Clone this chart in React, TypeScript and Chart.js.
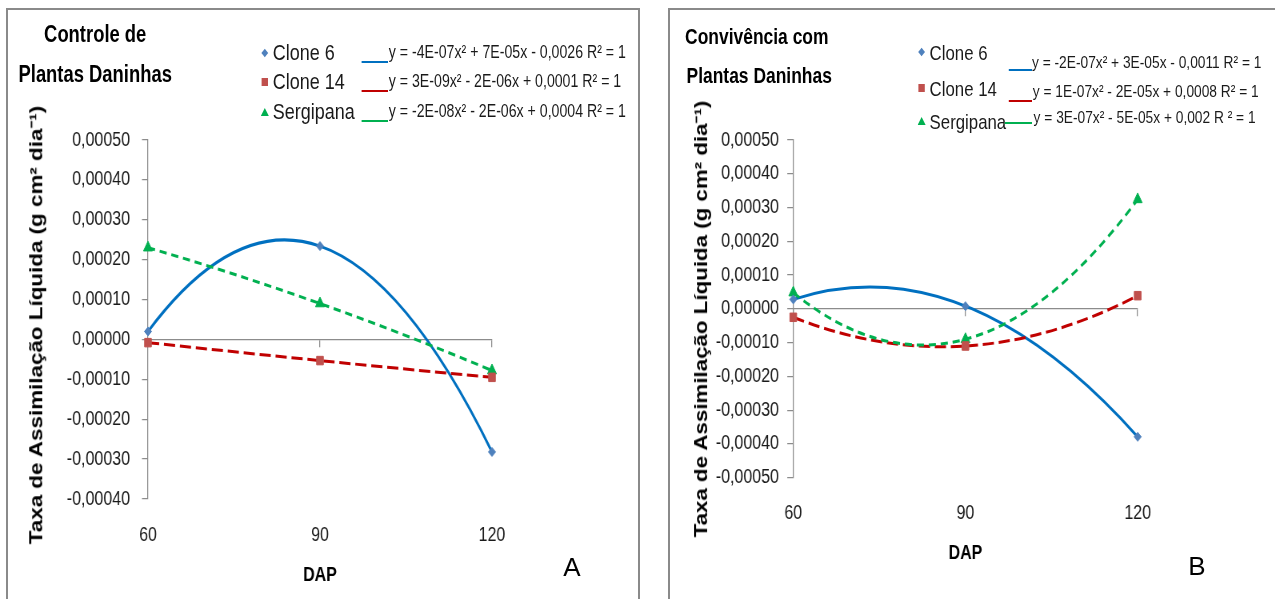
import React, { useEffect, useRef } from 'react';
import { Chart, registerables } from 'chart.js';

Chart.register(...registerables);

// ---- data ----
const dap = [60, 90, 120];
const seriesNames = ['Clone 6', 'Clone 14', 'Sergipana'];

// A: Controle de Plantas Daninhas
const clone6A = [0.00002, 0.000234, -0.000282];
const clone14A = [-0.000008, -0.000053, -0.000095];
const sergipanaA = [0.00023, 0.00009, -0.000078];
const equationsA = [
  'y = -4E-07x² + 7E-05x - 0,0026 R² = 1',
  'y = 3E-09x² - 2E-06x + 0,0001 R² = 1',
  'y = -2E-08x² - 2E-06x + 0,0004 R² = 1',
];
const titleA = ['Controle de', 'Plantas Daninhas'];

// B: Convivência com Plantas Daninhas
const clone6B = [0.000028, 0.000008, -0.000379];
const clone14B = [-0.000025, -0.00011, 0.000039];
const sergipanaB = [0.000048, -0.00009, 0.000324];
const equationsB = [
  'y = -2E-07x² + 3E-05x - 0,0011 R² = 1',
  'y = 1E-07x² - 2E-05x + 0,0008 R² = 1',
  'y = 3E-07x² - 5E-05x + 0,002 R ² = 1',
];
const titleB = ['Convivência com', 'Plantas Daninhas'];

const yRangeA = [-0.0004, 0.0005];
const yRangeB = [-0.0005, 0.0005];
const yStep = 0.0001;
const xRange = [60, 120];
const xStep = 30;

const yAxisTitle = 'Taxa de Assimilação Líquida (g cm² dia⁻¹)';
const xAxisTitle = 'DAP';

// ---- styles ----
const SQUEEZE = 0.8; // the figure is set in a horizontally condensed frame
const SANS = "'Liberation Sans', Arial, sans-serif";
const AXIS_GRAY = '#8c8c8c';
const TEXT = '#1a1a1a';
const FRAME = '#8a8a8a';

const markerColors = ['#4F81BD', '#C0504D', '#00B050'];
const lineColors = ['#0070C0', '#C00000', '#00B050'];
const lineDashes = [[], [14, 6], [9, 6]];
const pointStyles = ['rectRot', 'rect', 'triangle'];
const pointRadii = [4.5, 6, 6.5];

const fmtTick = (v: number | string) => {
  const n = Math.round(Number(v) * 1e5) / 1e5;
  return (n === 0 ? 0 : n).toFixed(5).replace('.', ',');
};

// Second-order trend through the three observations of each series
// (three points, so R² = 1): a parabola is a quadratic Bézier in pixel space.
const quadTrend = {
  id: 'quadTrend',
  beforeDatasetsDraw(chart: any) {
    const { ctx, scales } = chart;
    const xs = scales.x;
    const ys = scales.y;
    chart.data.datasets.forEach((ds: any, i: number) => {
      const p = ds.data.map((d: any) => ({ x: xs.getPixelForValue(d.x), y: ys.getPixelForValue(d.y) }));
      const cx = 2 * p[1].x - (p[0].x + p[2].x) / 2;
      const cy = 2 * p[1].y - (p[0].y + p[2].y) / 2;
      ctx.save();
      ctx.beginPath();
      ctx.moveTo(p[0].x, p[0].y);
      ctx.quadraticCurveTo(cx, cy, p[2].x, p[2].y);
      ctx.lineWidth = 3;
      ctx.strokeStyle = lineColors[i];
      ctx.setLineDash(lineDashes[i]);
      ctx.lineCap = 'butt';
      ctx.stroke();
      ctx.restore();
    });
  },
};

type Geometry = {
  width: number;
  padLeft: number;
  yWidth: number;
  padRight: number;
  padTop: number;
  padBottom: number;
  xAxisHeight: number;
  yTickPad: number;
  xTickPad: number;
};

function buildConfig(series: number[][], yRange: number[], g: Geometry): any {
  const noPad = (s: any) => {
    s.paddingLeft = 0;
    s.paddingRight = 0;
    s.paddingTop = 0;
    s.paddingBottom = 0;
  };
  return {
    type: 'scatter',
    data: {
      datasets: series.map((vals, i) => ({
        label: seriesNames[i],
        data: dap.map((d, j) => ({ x: d, y: vals[j] })),
        xAxisID: 'x',
        yAxisID: 'y',
        showLine: false,
        pointStyle: pointStyles[i],
        pointRadius: pointRadii[i],
        backgroundColor: markerColors[i],
        borderColor: markerColors[i],
        borderWidth: 1,
        clip: false,
      })),
    },
    options: {
      responsive: false,
      animation: false,
      devicePixelRatio: 1,
      events: [],
      layout: { padding: { left: g.padLeft, right: g.padRight, top: g.padTop, bottom: g.padBottom } },
      plugins: { legend: { display: false }, tooltip: { enabled: false }, title: { display: false } },
      scales: {
        x: {
          type: 'linear',
          position: { y: 0 },
          min: xRange[0],
          max: xRange[1],
          ticks: { display: false, stepSize: xStep },
          grid: { display: true, drawOnChartArea: false, drawTicks: true, tickLength: 7, color: AXIS_GRAY, lineWidth: 1.25 },
          border: { display: true, color: AXIS_GRAY, width: 1.25 },
          afterFit: noPad,
        },
        xLabels: {
          type: 'linear',
          position: 'bottom',
          min: xRange[0],
          max: xRange[1],
          ticks: {
            stepSize: xStep,
            padding: g.xTickPad,
            color: TEXT,
            font: { family: SANS, size: 20 },
            maxRotation: 0,
          },
          grid: { display: false, drawTicks: false },
          border: { display: false },
          title: {
            display: true,
            text: xAxisTitle,
            color: '#000',
            padding: 0,
            font: { family: SANS, size: 20, weight: 'bold' },
          },
          afterFit: (s: any) => {
            s.height = g.xAxisHeight;
            noPad(s);
          },
        },
        y: {
          type: 'linear',
          position: 'left',
          min: yRange[0],
          max: yRange[1],
          ticks: {
            stepSize: yStep,
            padding: g.yTickPad,
            color: TEXT,
            font: { family: SANS, size: 20 },
            callback: fmtTick,
          },
          grid: { display: true, drawOnChartArea: false, drawTicks: true, tickLength: 7.5, color: AXIS_GRAY, lineWidth: 1.25 },
          border: { display: true, color: AXIS_GRAY, width: 1.25 },
          afterFit: (s: any) => {
            s.width = g.yWidth;
            noPad(s);
          },
        },
      },
    },
    plugins: [quadTrend],
  };
}

// canvas-relative geometry, in the condensed frame's units
const geomA: Geometry = {
  width: 800, padLeft: 20, yWidth: 165, padRight: 185, padTop: 140,
  padBottom: 12, xAxisHeight: 88, yTickPad: 15, xTickPad: 24,
};
const geomB: Geometry = {
  width: 794, padLeft: 20, yWidth: 171.6, padRight: 171.9, padTop: 140,
  padBottom: 34, xAxisHeight: 87.3, yTickPad: 10.4, xTickPad: 23.3,
};

function PanelChart({ left, series, yRange, geom }: { left: number; series: number[][]; yRange: number[]; geom: Geometry }) {
  const ref = useRef<HTMLCanvasElement | null>(null);
  useEffect(() => {
    if (!ref.current) return;
    const chart = new Chart(ref.current, buildConfig(series, yRange, geom));
    return () => chart.destroy();
  }, []);
  return (
    <canvas
      ref={ref}
      width={geom.width}
      height={599}
      style={{ position: 'absolute', left, top: 0, width: geom.width, height: 599 }}
    />
  );
}

function Txt({ x, y, size, text, weight = 'normal', center = false, color = TEXT }: any) {
  return (
    <div
      style={{
        position: 'absolute',
        left: x,
        top: y - size / 2,
        fontFamily: SANS,
        fontSize: size,
        fontWeight: weight,
        lineHeight: `${size}px`,
        whiteSpace: 'nowrap',
        color,
        transform: center ? 'translateX(-50%)' : undefined,
      }}
    >
      {text}
    </div>
  );
}

function YTitle({ x, y, size }: { x: number; y: number; size: number }) {
  return (
    <div
      style={{
        position: 'absolute',
        left: x,
        top: y,
        fontFamily: SANS,
        fontSize: size,
        fontWeight: 'bold',
        lineHeight: `${size}px`,
        whiteSpace: 'nowrap',
        color: '#000',
        transform: 'translate(-50%, -50%) rotate(-90deg)',
      }}
    >
      {yAxisTitle}
    </div>
  );
}

function Marker({ kind, x, y }: { kind: number; x: number; y: number }) {
  if (kind === 0) {
    return <div style={{ position: 'absolute', left: x - 3, top: y - 3, width: 6, height: 6, background: markerColors[0], transform: 'rotate(45deg)' }} />;
  }
  if (kind === 1) {
    return <div style={{ position: 'absolute', left: x - 4, top: y - 4, width: 8, height: 8, background: markerColors[1] }} />;
  }
  return (
    <div
      style={{
        position: 'absolute', left: x - 5, top: y - 4, width: 0, height: 0,
        borderLeft: '5px solid transparent', borderRight: '5px solid transparent',
        borderBottom: `8px solid ${markerColors[2]}`,
      }}
    />
  );
}

type LegendRow = { markerX: number; labelX: number; labelY: number; lineX0: number; lineX1: number; lineY: number; eqX: number; eqY: number };

function Legend({ rows, equations, labelSize, eqSize }: { rows: LegendRow[]; equations: string[]; labelSize: number; eqSize: number }) {
  return (
    <>
      {rows.map((r, i) => (
        <React.Fragment key={i}>
          <Marker kind={i} x={r.markerX} y={r.labelY} />
          <Txt x={r.labelX} y={r.labelY} size={labelSize} text={seriesNames[i]} />
          <div style={{ position: 'absolute', left: r.lineX0, top: r.lineY - 1, width: r.lineX1 - r.lineX0, height: 2, background: lineColors[i] }} />
          <Txt x={r.eqX} y={r.eqY} size={eqSize} text={equations[i]} />
        </React.Fragment>
      ))}
    </>
  );
}

const legendRowsA: LegendRow[] = [
  { markerX: 331, labelX: 341, labelY: 53, lineX0: 452, lineX1: 485, lineY: 62, eqX: 486, eqY: 53 },
  { markerX: 331, labelX: 341, labelY: 82, lineX0: 452, lineX1: 485, lineY: 91, eqX: 486, eqY: 82 },
  { markerX: 331, labelX: 341, labelY: 112, lineX0: 452, lineX1: 485, lineY: 121, eqX: 486, eqY: 112 },
];
const legendRowsB: LegendRow[] = [
  { markerX: 1152, labelX: 1162, labelY: 52, lineX0: 1261, lineX1: 1290, lineY: 70, eqX: 1290, eqY: 63 },
  { markerX: 1152, labelX: 1162, labelY: 88, lineX0: 1261, lineX1: 1290, lineY: 101, eqX: 1291, eqY: 92 },
  { markerX: 1152, labelX: 1162, labelY: 121, lineX0: 1256, lineX1: 1290, lineY: 123, eqX: 1292, eqY: 118 },
];

export default function App() {
  return (
    <div style={{ position: 'absolute', left: 0, top: 0, width: 1275, height: 599, overflow: 'hidden', background: '#fff' }}>
      <div style={{ position: 'absolute', left: 6, top: 8, width: 634, height: 700, border: `2px solid ${FRAME}`, boxSizing: 'border-box' }} />
      <div style={{ position: 'absolute', left: 668, top: 8, width: 700, height: 700, border: `2px solid ${FRAME}`, boxSizing: 'border-box' }} />

      <div
        style={{
          position: 'absolute', left: 0, top: 0, width: 1275 / SQUEEZE, height: 599,
          transform: `scaleX(${SQUEEZE})`, transformOrigin: '0 0',
        }}
      >
        <PanelChart left={0} series={[clone6A, clone14A, sergipanaA]} yRange={yRangeA} geom={geomA} />
        <PanelChart left={800} series={[clone6B, clone14B, sergipanaB]} yRange={yRangeB} geom={geomB} />

        <YTitle x={46.25} y={325} size={22.4} />
        <YTitle x={877} y={319} size={22.3} />

        <Txt x={119} y={34} size={23} weight="bold" center color="#000" text={titleA[0]} />
        <Txt x={119} y={74} size={23} weight="bold" center color="#000" text={titleA[1]} />
        <Txt x={946} y={37} size={21.8} weight="bold" center color="#000" text={titleB[0]} />
        <Txt x={949} y={76} size={21.8} weight="bold" center color="#000" text={titleB[1]} />

        <Legend rows={legendRowsA} equations={equationsA} labelSize={22.5} eqSize={17.7} />
        <Legend rows={legendRowsB} equations={equationsB} labelSize={21} eqSize={17.2} />
      </div>

      <Txt x={572} y={567} size={26} center color="#000" text="A" />
      <Txt x={1197} y={566} size={26} center color="#000" text="B" />
    </div>
  );
}
